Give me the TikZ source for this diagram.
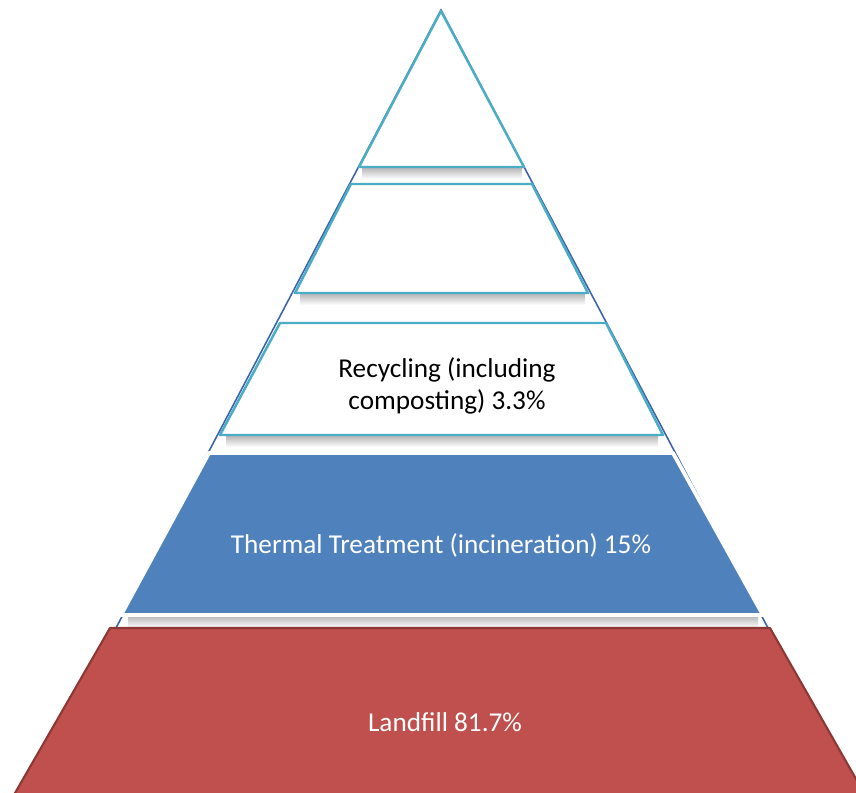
\documentclass[tikz,border=0pt]{standalone}
\definecolor{LayerTeal}{RGB}{75, 172, 198}
\definecolor{LayerBlue}{RGB}{79, 129, 189}
\definecolor{EdgeBlue}{RGB}{62, 100, 170}
\definecolor{LandfillRed}{RGB}{192, 80, 77}
\definecolor{LandfillEdge}{RGB}{140, 56, 54}
\usepackage{fontspec}
\setmainfont{Carlito}
\usepackage{tikz}
\usetikzlibrary{positioning}

\begin{document}
\begin{tikzpicture}[x=0.02cm, y=-0.02cm,
    band/.style={draw=LayerTeal, line width=1.4pt, fill=white, line join=round},
    bandshadow/.style={top color=black!28, bottom color=white, draw=none},
    layertext/.style={font=\fontsize{15.5}{18.5}\selectfont}]
        \useasboundingbox (0,0) rectangle (856,793);
        \clip (0,0) rectangle (856,793);
        % outline of the whole pyramid behind the layers
        \draw[EdgeBlue, line width=0.9pt] (441,10) -- (116,628) -- (768,628) -- cycle;
        % shadows below the layers
        \fill[bandshadow] (362,168) rectangle (522,179);
        \fill[bandshadow] (300,294) rectangle (585,305);
        \fill[bandshadow] (226,436) rectangle (658,447);
        \fill[bandshadow] (128,616) rectangle (758,628);
        % upper layers
        \draw[band] (441,11) -- (524,167) -- (359,167) -- cycle;
        \draw[band] (351,184) -- (532,184) -- (588,293) -- (295,293) -- cycle;
        \draw[band] (280,323) -- (606,323) -- (663,435) -- (220,435) -- cycle;
        \node[layertext, align=center, text=black] (recycling) at (447,386) {Recycling (including\\composting) 3.3\%};
        % thermal treatment layer
        \draw[draw=white, line width=2.2pt, fill=LayerBlue, line join=round] (209,453) -- (673,453) -- (763,615) -- (121,615) -- cycle;
        \node[layertext, text=white] (thermal) at (441,545) {Thermal Treatment (incineration) 15\%};
        % landfill layer
        \draw[draw=LandfillEdge, line width=1.2pt, fill=LandfillRed, line join=round] (110,628) -- (770,628) -- (868,800) -- (11,800) -- cycle;
        \node[layertext, text=white] (landfill) at (445,722) {Landfill 81.7\%};
      \end{tikzpicture}
\end{document}
